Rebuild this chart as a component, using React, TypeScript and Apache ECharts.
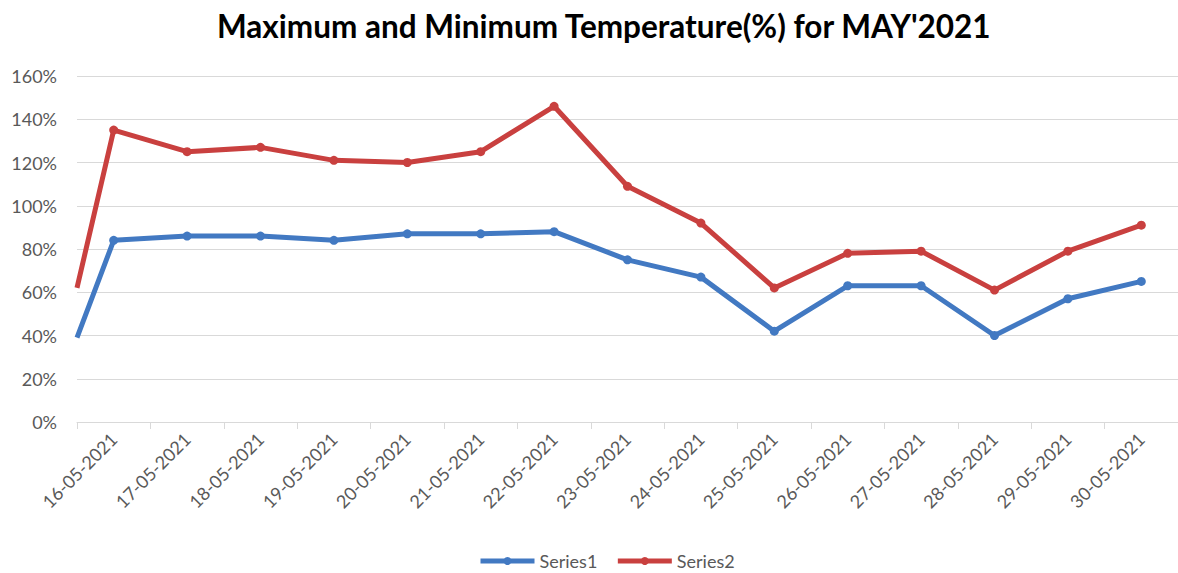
import React, { useEffect, useRef } from "react";
import * as echarts from "echarts";

// ---- data ----
const categories = [
  "16-05-2021", "17-05-2021", "18-05-2021", "19-05-2021", "20-05-2021",
  "21-05-2021", "22-05-2021", "23-05-2021", "24-05-2021", "25-05-2021",
  "26-05-2021", "27-05-2021", "28-05-2021", "29-05-2021", "30-05-2021",
];
const series1Values = [84, 86, 86, 84, 87, 87, 88, 75, 67, 42, 63, 63, 40, 57, 65];
const series2Values = [135, 125, 127, 121, 120, 125, 146, 109, 92, 62, 78, 79, 61, 79, 91];
// value where each line enters the plot at its left edge (line comes from outside the plot)
const series1EdgeValue = 39;
const series2EdgeValue = 62;
const yMin = 0;
const yMax = 160;
const yStep = 20;

const FONT = "Lato, 'Noto Sans', sans-serif";
const BLUE = "#4279C2";
const RED = "#C9403F";
const GREY_TEXT = "#595959";
const GRID = "#d9d9d9";

function buildData(edge: number, values: number[]) {
  const lead = { value: [-0.5, edge], symbol: "none" };
  return [lead, ...values.map((v, i) => ({ value: [i, v] }))];
}

export default function App() {
  const ref = useRef<HTMLDivElement>(null);
  useEffect(() => {
    document.body.style.margin = "0";
    if (!ref.current) return;
    const chart = echarts.init(ref.current, undefined, { renderer: "svg" });
    chart.setOption({
      animation: false,
      backgroundColor: "#ffffff",
      title: {
        text: "Maximum and Minimum Temperature(%) for MAY'2021",
        left: 212,
        top: 5,
        textStyle: { fontFamily: FONT, fontWeight: "bold", fontSize: 31.5, color: "#000000" },
      },
      legend: {
        left: 478,
        top: 552,
        padding: 0,
        itemWidth: 54,
        itemHeight: 10,
        itemGap: 18,
        lineStyle: { width: 5 },
        textStyle: { fontFamily: FONT, fontSize: 18, color: GREY_TEXT },
        data: ["Series1", "Series2"],
      },
      grid: { left: 77, right: -5, top: 76, bottom: 151, containLabel: false },
      xAxis: [
        {
          type: "category",
          data: categories,
          boundaryGap: true,
          axisLine: { show: true, lineStyle: { color: GRID, width: 1 } },
          axisTick: { show: true, length: 7, lineStyle: { color: GRID } },
          axisLabel: {
            rotate: 45,
            margin: 14,
            interval: 0,
            fontFamily: FONT,
            fontSize: 18,
            color: GREY_TEXT,
          },
          splitLine: { show: false },
        },
        {
          type: "value",
          min: -0.5,
          max: categories.length - 0.5,
          show: false,
          splitLine: { show: false },
        },
      ],
      yAxis: {
        type: "value",
        min: yMin,
        max: yMax,
        interval: yStep,
        axisLine: { show: false },
        axisTick: { show: false },
        axisLabel: {
          formatter: "{value}%",
          margin: 20,
          fontFamily: FONT,
          fontSize: 18,
          color: GREY_TEXT,
        },
        splitLine: { lineStyle: { color: GRID, width: 1 } },
      },
      series: [
        {
          name: "Series1",
          type: "line",
          xAxisIndex: 1,
          data: buildData(series1EdgeValue, series1Values),
          symbol: "circle",
          symbolSize: 9,
          lineStyle: { color: BLUE, width: 5 },
          itemStyle: { color: BLUE },
          clip: true,
        },
        {
          name: "Series2",
          type: "line",
          xAxisIndex: 1,
          data: buildData(series2EdgeValue, series2Values),
          symbol: "circle",
          symbolSize: 9,
          lineStyle: { color: RED, width: 5 },
          itemStyle: { color: RED },
          clip: true,
        },
      ],
    });
    return () => chart.dispose();
  }, []);
  return <div ref={ref} style={{ width: 1178, height: 573 }} />;
}
